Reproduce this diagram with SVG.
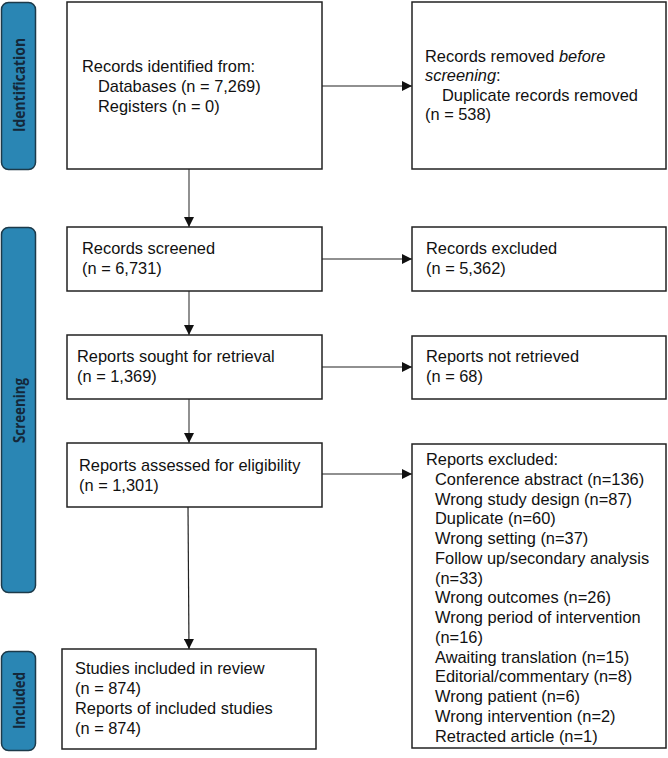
<svg xmlns="http://www.w3.org/2000/svg" width="668" height="758" viewBox="0 0 668 758">
<style>
.bg{fill:#ffffff}
.box{fill:#ffffff;stroke:#222222;stroke-width:1.5}
.pill{fill:#2a86b4;stroke:#1c3a4a;stroke-width:1.5}
.t{font-family:"Liberation Sans",Arial,sans-serif;font-size:16.4px;fill:#111111}
.pt{font-family:"Open Sans","Liberation Sans",sans-serif;font-size:16px;font-weight:bold;fill:#14283a;text-anchor:middle}
.c{stroke:#222222;stroke-width:1.2;fill:none}
.cg{stroke:#555555;stroke-width:1.3;fill:none}
</style>
<defs>
<marker id="ah" viewBox="0 0 10 10" refX="10" refY="5" markerWidth="10" markerHeight="10" markerUnits="userSpaceOnUse" orient="auto">
<path d="M0,0 L10,5 L0,10 z" fill="#111111"/>
</marker>
</defs>
<rect class="bg" x="0" y="0" width="668" height="758"/>

<g id="phase-identification">
<rect class="pill" x="1.5" y="2.5" width="34" height="167" rx="7"/>
<text class="pt" transform="translate(25,85) rotate(-90)" textLength="94" lengthAdjust="spacingAndGlyphs">Identification</text>
</g>
<g id="phase-screening">
<rect class="pill" x="1.5" y="227.5" width="34" height="365" rx="7"/>
<text class="pt" transform="translate(25,410.5) rotate(-90)" textLength="65" lengthAdjust="spacingAndGlyphs">Screening</text>
</g>
<g id="phase-included">
<rect class="pill" x="1.5" y="651.5" width="34" height="99" rx="7"/>
<text class="pt" transform="translate(25,700.5) rotate(-90)" textLength="57" lengthAdjust="spacingAndGlyphs">Included</text>
</g>

<g id="connectors">
<line class="cg" x1="189" y1="169" x2="189" y2="227" marker-end="url(#ah)"/>
<line class="cg" x1="189" y1="291" x2="189" y2="335" marker-end="url(#ah)"/>
<line class="cg" x1="189" y1="399" x2="189" y2="443" marker-end="url(#ah)"/>
<line class="c" x1="188" y1="507" x2="189" y2="649" marker-end="url(#ah)"/>
<line class="c" x1="322" y1="86" x2="412" y2="86" marker-end="url(#ah)"/>
<line class="c" x1="322" y1="259" x2="412" y2="259" marker-end="url(#ah)"/>
<line class="c" x1="322" y1="367" x2="412" y2="367" marker-end="url(#ah)"/>
<line class="c" x1="322" y1="474" x2="412" y2="474" marker-end="url(#ah)"/>
</g>

<g id="records-identified">
<rect class="box" x="67" y="2" width="255" height="167"/>
<text class="t" x="82" y="72">Records identified from:</text>
<text class="t" x="98" y="92">Databases (n = 7,269)</text>
<text class="t" x="98" y="112">Registers (n = 0)</text>
</g>
<g id="records-removed">
<rect class="box" x="412" y="2" width="254" height="167"/>
<text class="t" x="425" y="62">Records removed <tspan font-style="italic">before</tspan></text>
<text class="t" x="425" y="81"><tspan font-style="italic">screening</tspan>:</text>
<text class="t" x="442" y="101">Duplicate records removed</text>
<text class="t" x="425" y="120">(n = 538)</text>
</g>
<g id="records-screened">
<rect class="box" x="67" y="227" width="255" height="64"/>
<text class="t" x="82" y="254">Records screened</text>
<text class="t" x="82" y="274">(n = 6,731)</text>
</g>
<g id="records-excluded">
<rect class="box" x="412" y="227" width="254" height="64"/>
<text class="t" x="426" y="254">Records excluded</text>
<text class="t" x="426" y="274">(n = 5,362)</text>
</g>
<g id="reports-sought">
<rect class="box" x="67" y="335" width="255" height="64"/>
<text class="t" x="77" y="362">Reports sought for retrieval</text>
<text class="t" x="77" y="382">(n = 1,369)</text>
</g>
<g id="reports-not-retrieved">
<rect class="box" x="412" y="336" width="254" height="63"/>
<text class="t" x="426" y="362">Reports not retrieved</text>
<text class="t" x="426" y="382">(n = 68)</text>
</g>
<g id="reports-assessed">
<rect class="box" x="67" y="443" width="255" height="64"/>
<text class="t" x="79" y="471">Reports assessed for eligibility</text>
<text class="t" x="79" y="491">(n = 1,301)</text>
</g>
<g id="reports-excluded">
<rect class="box" x="412" y="444" width="254" height="304"/>
<text class="t" x="426" y="465">Reports excluded:</text>
<text class="t" x="435" y="484.75">Conference abstract (n=136)</text>
<text class="t" x="435" y="504.5">Wrong study design (n=87)</text>
<text class="t" x="435" y="524.25">Duplicate (n=60)</text>
<text class="t" x="435" y="544">Wrong setting (n=37)</text>
<text class="t" x="435" y="563.75">Follow up/secondary analysis</text>
<text class="t" x="435" y="583.5">(n=33)</text>
<text class="t" x="435" y="603.25">Wrong outcomes (n=26)</text>
<text class="t" x="435" y="623">Wrong period of intervention</text>
<text class="t" x="435" y="642.75">(n=16)</text>
<text class="t" x="435" y="662.5">Awaiting translation (n=15)</text>
<text class="t" x="435" y="682.25">Editorial/commentary (n=8)</text>
<text class="t" x="435" y="702">Wrong patient (n=6)</text>
<text class="t" x="435" y="721.75">Wrong intervention (n=2)</text>
<text class="t" x="435" y="741.5">Retracted article (n=1)</text>
</g>
<g id="studies-included">
<rect class="box" x="62" y="649" width="254" height="100"/>
<text class="t" x="75" y="674">Studies included in review</text>
<text class="t" x="75" y="694">(n = 874)</text>
<text class="t" x="75" y="714">Reports of included studies</text>
<text class="t" x="75" y="734">(n = 874)</text>
</g>
</svg>
